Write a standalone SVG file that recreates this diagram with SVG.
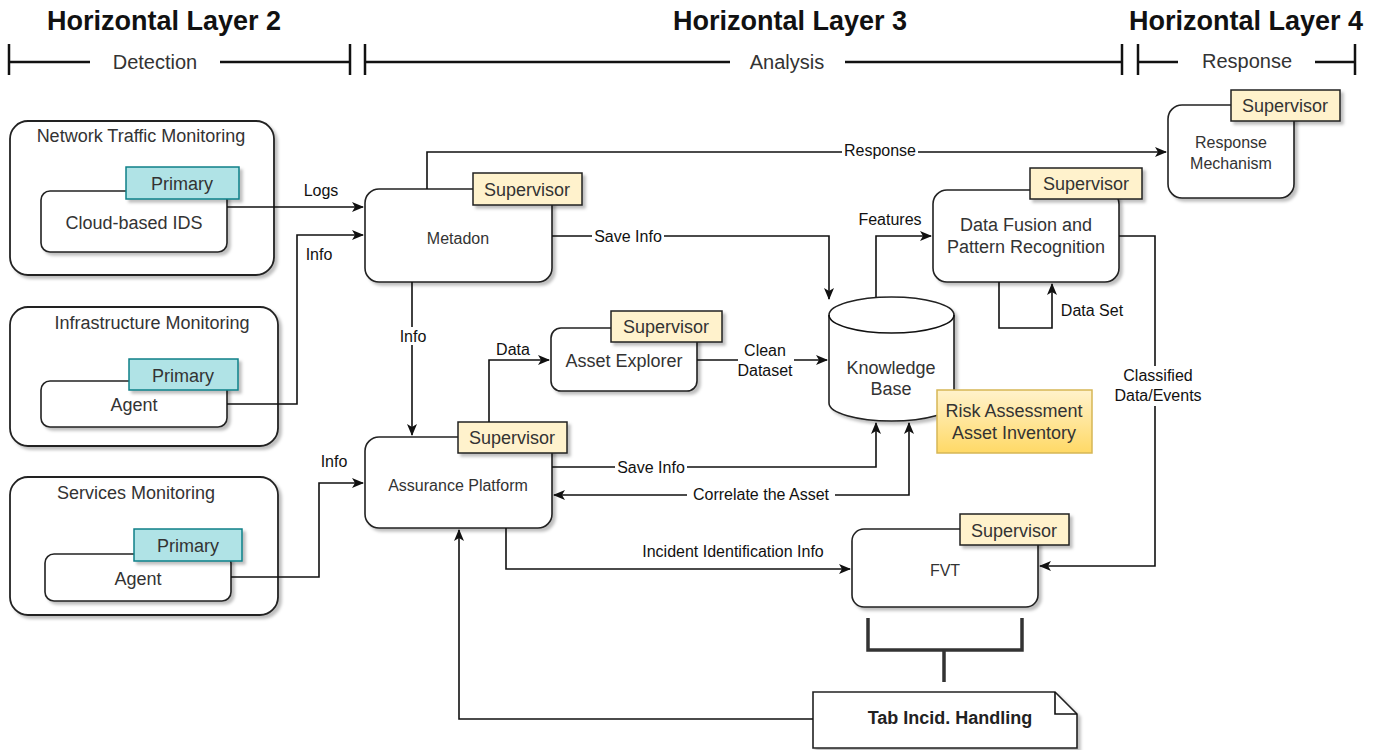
<svg xmlns="http://www.w3.org/2000/svg" width="1382" height="750" viewBox="0 0 1382 750">
<style>
text{font-family:"Liberation Sans",Arial,sans-serif;}
.hd{font-size:27px;font-weight:bold;fill:#111;text-anchor:middle;}
.ph{font-size:20px;fill:#333;text-anchor:middle;}
.bar{stroke:#111;stroke-width:2.5;fill:none;}
.cont{fill:#fff;stroke:#222;stroke-width:1.8;}
.box{fill:#fff;stroke:#222;stroke-width:1.6;}
.t18{font-size:18px;fill:#333;text-anchor:middle;}
.t16{font-size:16px;fill:#333;text-anchor:middle;}
.lbl{font-size:16px;fill:#111;text-anchor:middle;}
.prim{fill:#b0e3e6;stroke:#0e8088;stroke-width:1.5;}
.sup{fill:#fff2cc;stroke:#222;stroke-width:1.5;}
.edge{fill:none;stroke:#111;stroke-width:1.6;marker-end:url(#arr);}
.plain{fill:none;stroke:#111;stroke-width:1.6;}
.bg{fill:#fff;}
</style>
<defs>
<marker id="arr" viewBox="0 0 12 10" refX="11" refY="5" markerWidth="12" markerHeight="10" markerUnits="userSpaceOnUse" orient="auto-start-reverse"><path d="M0,0 L12,5 L0,10 L3,5 z" fill="#111"/></marker>
<filter id="sh" x="-10%" y="-10%" width="130%" height="130%"><feDropShadow dx="3" dy="3" stdDeviation="1.5" flood-color="#000" flood-opacity="0.25"/></filter>
<linearGradient id="gold" x1="0" y1="0" x2="0" y2="1"><stop offset="0" stop-color="#fff2cc"/><stop offset="1" stop-color="#ffd966"/></linearGradient>
</defs>

<g id="header">
<text class="hd" x="164" y="30">Horizontal Layer 2</text>
<text class="hd" x="790" y="30">Horizontal Layer 3</text>
<text class="hd" x="1246" y="30">Horizontal Layer 4</text>
<path class="bar" d="M9,44 V75 M9,62 H90 M220,62 H350 M350,44 V75 M365,44 V75 M365,62 H730 M845,62 H1122 M1122,44 V75 M1138,44 V75 M1138,62 H1178 M1315,62 H1355 M1355,44 V75"/>
<text class="ph" x="155" y="69">Detection</text>
<text class="ph" x="787" y="69">Analysis</text>
<text class="ph" x="1247" y="68">Response</text>
</g>

<g id="network-traffic-monitoring">
<rect class="cont" x="10" y="121" width="264" height="154" rx="18" filter="url(#sh)"/>
<text class="t18" x="141" y="142">Network Traffic Monitoring</text>
<rect class="box" x="41" y="191" width="186" height="61" rx="9" filter="url(#sh)"/>
<rect class="prim" x="126" y="167" width="113" height="32" filter="url(#sh)"/>
<text class="t18" x="182" y="190">Primary</text>
<text class="t18" x="134" y="229">Cloud-based IDS</text>
</g>

<g id="infrastructure-monitoring">
<rect class="cont" x="10" y="307" width="268" height="139" rx="18" filter="url(#sh)"/>
<text class="t18" x="152" y="329">Infrastructure Monitoring</text>
<rect class="box" x="41" y="381" width="186" height="46" rx="9" filter="url(#sh)"/>
<rect class="prim" x="129" y="359" width="109" height="31" filter="url(#sh)"/>
<text class="t18" x="183" y="382">Primary</text>
<text class="t18" x="134" y="411">Agent</text>
</g>

<g id="services-monitoring">
<rect class="cont" x="10" y="477" width="268" height="138" rx="18" filter="url(#sh)"/>
<text class="t18" x="136" y="499">Services Monitoring</text>
<rect class="box" x="45" y="554" width="186" height="47" rx="9" filter="url(#sh)"/>
<rect class="prim" x="134" y="529" width="108" height="32" filter="url(#sh)"/>
<text class="t18" x="188" y="552">Primary</text>
<text class="t18" x="138" y="585">Agent</text>
</g>

<g id="metadon">
<rect class="box" x="365" y="189" width="187" height="93" rx="14" filter="url(#sh)"/>
<rect class="sup" x="473" y="173" width="109" height="32" filter="url(#sh)"/>
<text class="t18" x="527" y="196">Supervisor</text>
<text class="t16" x="458" y="244">Metadon</text>
</g>

<g id="assurance-platform">
<rect class="box" x="365" y="437" width="187" height="91" rx="14" filter="url(#sh)"/>
<rect class="sup" x="458" y="422" width="109" height="31" filter="url(#sh)"/>
<text class="t18" x="512" y="444">Supervisor</text>
<text class="t16" x="458" y="491">Assurance Platform</text>
</g>

<g id="asset-explorer">
<rect class="box" x="551" y="328" width="146" height="63" rx="10" filter="url(#sh)"/>
<rect class="sup" x="611" y="311" width="111" height="31" filter="url(#sh)"/>
<text class="t18" x="666" y="333">Supervisor</text>
<text class="t18" x="624" y="367">Asset Explorer</text>
</g>

<g id="knowledge-base">
<path class="box" d="M829,315 A62.5,18 0 0 1 954,315 L954,403 A62.5,18 0 0 1 829,403 Z" filter="url(#sh)"/>
<path class="plain" d="M829,315 A62.5,18 0 0 0 954,315" stroke="#222"/>
<text class="t18" x="891" y="374">Knowledge</text>
<text class="t18" x="891" y="395">Base</text>
</g>

<g id="risk-assessment">
<rect x="937" y="390" width="155" height="63" fill="url(#gold)" stroke="#d6b656" stroke-width="1.5"/>
<text class="t18" x="1014" y="417">Risk Assessment</text>
<text class="t18" x="1014" y="439">Asset Inventory</text>
</g>

<g id="data-fusion">
<rect class="box" x="933" y="190" width="186" height="92" rx="14" filter="url(#sh)"/>
<rect class="sup" x="1030" y="168" width="112" height="31" filter="url(#sh)"/>
<text class="t18" x="1086" y="190">Supervisor</text>
<text class="t18" x="1026" y="231">Data Fusion and</text>
<text class="t18" x="1026" y="253">Pattern Recognition</text>
</g>

<g id="response-mechanism">
<rect class="box" x="1168" y="105" width="126" height="93" rx="14" filter="url(#sh)"/>
<rect class="sup" x="1231" y="90" width="109" height="31" filter="url(#sh)"/>
<text class="t18" x="1285" y="112">Supervisor</text>
<text class="t16" x="1231" y="148">Response</text>
<text class="t16" x="1231" y="169">Mechanism</text>
</g>

<g id="fvt">
<rect class="box" x="852" y="529" width="186" height="78" rx="12" filter="url(#sh)"/>
<rect class="sup" x="960" y="514" width="109" height="31" filter="url(#sh)"/>
<text class="t18" x="1014" y="537">Supervisor</text>
<text class="t16" x="945" y="576">FVT</text>
</g>

<g id="tab-incid-handling">
<path class="box" d="M813,692 H1055 L1077,714 V748 H813 Z" filter="url(#sh)"/>
<path class="plain" d="M1055,692 V714 H1077" stroke="#222"/>
<text x="950" y="724" font-size="18" font-weight="bold" fill="#222" text-anchor="middle">Tab Incid. Handling</text>
</g>

<g id="connectors">
<path class="edge" d="M227,207 H363"/>
<text class="lbl" x="321" y="196">Logs</text>
<path class="edge" d="M227,404 H297 V235 H363"/>
<text class="lbl" x="319" y="260">Info</text>
<path class="edge" d="M231,577 H319 V483 H363"/>
<text class="lbl" x="334" y="467">Info</text>

<path class="edge" d="M427,189 V152 H1166"/>
<rect class="bg" x="842" y="142" width="76" height="18"/>
<text class="lbl" x="880" y="156">Response</text>

<path class="edge" d="M552,236 H829 V299"/>
<rect class="bg" x="592" y="227" width="72" height="18"/>
<text class="lbl" x="628" y="242">Save Info</text>

<path class="edge" d="M412,282 V435"/>
<rect class="bg" x="398" y="327" width="28" height="18"/>
<text class="lbl" x="413" y="342">Info</text>

<path class="edge" d="M489,422 V360 H549"/>
<text class="lbl" x="513" y="355">Data</text>

<path class="edge" d="M697,360 H827"/>
<rect class="bg" x="738" y="341" width="56" height="38"/>
<text class="lbl" x="765" y="356">Clean</text>
<text class="lbl" x="765" y="376">Dataset</text>

<path class="edge" d="M876,297 V236 H931"/>
<text class="lbl" x="890" y="225">Features</text>

<path class="edge" d="M999,282 V328 H1052 V284"/>
<text class="lbl" x="1092" y="316">Data Set</text>

<path class="edge" d="M1119,236 H1155 V566 H1040"/>
<rect class="bg" x="1112" y="366" width="92" height="40"/>
<text class="lbl" x="1158" y="381">Classified</text>
<text class="lbl" x="1158" y="401">Data/Events</text>

<path class="edge" d="M552,467 H876 V423"/>
<rect class="bg" x="615" y="458" width="72" height="18"/>
<text class="lbl" x="651" y="473">Save Info</text>

<path class="edge" d="M554,495 H909 V423" style="marker-start:url(#arr)"/>
<rect class="bg" x="687" y="485" width="148" height="18"/>
<text class="lbl" x="761" y="500">Correlate the Asset</text>

<path class="edge" d="M506,528 V569 H850"/>
<text class="lbl" x="733" y="557">Incident Identification Info</text>

<path class="edge" d="M813,719 H459 V530"/>

<path d="M868,618 V650 H1022 V618 M944,650 V682" fill="none" stroke="#333" stroke-width="3.5"/>
</g>
</svg>
